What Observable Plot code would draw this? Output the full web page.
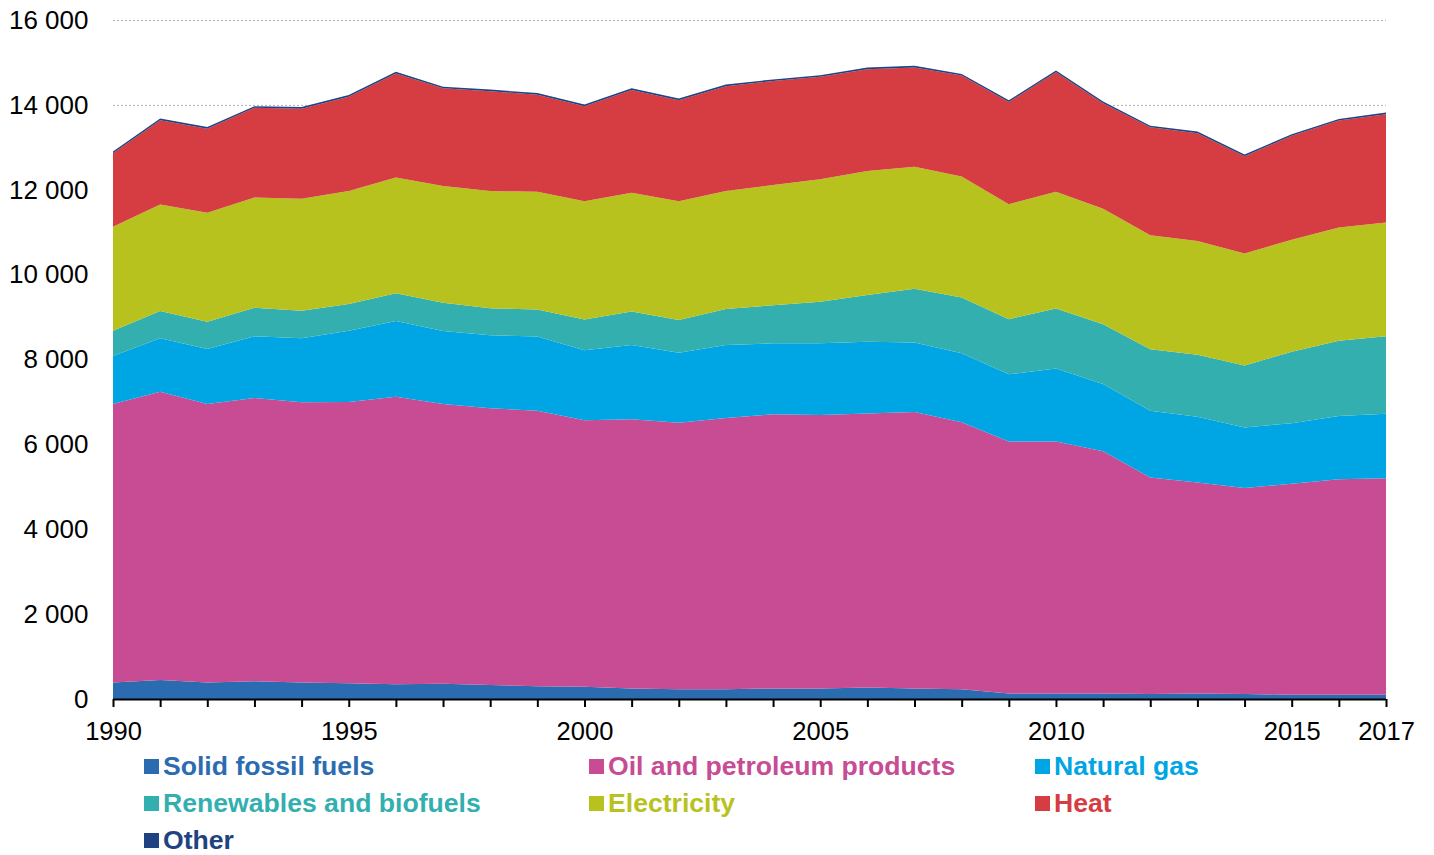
<!DOCTYPE html>
<html>
<head>
<meta charset="utf-8">
<script src="https://cdn.jsdelivr.net/npm/d3@7"></script>
<script src="https://cdn.jsdelivr.net/npm/@observablehq/plot@0.6"></script>
<style>
  html, body { margin: 0; padding: 0; background: #fff; }
  body { width: 1434px; height: 855px; overflow: hidden; font-family: "Liberation Sans", Arial, sans-serif; }
  #chart svg { display: block; }
  .legend { display: grid; grid-template-columns: 445px 446px 300px; padding-left: 144px; margin-top: 0; }
  .legend .item { display: flex; align-items: center; height: 37px; font-weight: bold; font-size: 26.6px; white-space: nowrap; }
  .legend .sw { width: 15px; height: 15px; margin-right: 4px; flex: none; }
</style>
</head>
<body>
<div id="chart"></div>
<div class="legend" id="legend"></div>
<script>
const years = [1990,1991,1992,1993,1994,1995,1996,1997,1998,1999,2000,2001,2002,2003,2004,2005,2006,2007,2008,2009,2010,2011,2012,2013,2014,2015,2016,2017];
const seriesNames = ["Solid fossil fuels","Oil and petroleum products","Natural gas","Renewables and biofuels","Electricity","Heat","Other"];
const seriesColors = ["#2b6cb1","#c74c94","#00a5e3","#33afaf","#b8c21f","#d63d43","#1f4280"];

const solidFossil = [390,450,390,420,390,370,350,360,330,300,290,250,230,230,250,250,270,250,230,130,130,130,120,130,120,100,100,100];
const oilPetroleum = [6560,6790,6560,6670,6600,6630,6770,6590,6520,6490,6280,6340,6280,6390,6460,6440,6460,6510,6290,5940,5940,5710,5100,4970,4850,4970,5080,5100];
const naturalGas = [1130,1260,1300,1460,1510,1680,1790,1720,1720,1750,1650,1750,1650,1720,1670,1690,1690,1640,1630,1580,1720,1580,1570,1550,1430,1430,1490,1520];
const renewables = [600,640,640,670,650,630,650,670,640,640,720,790,770,850,900,980,1100,1270,1310,1300,1410,1410,1450,1460,1460,1680,1770,1830];
const electricity = [2450,2510,2570,2600,2640,2660,2730,2750,2760,2770,2790,2800,2800,2780,2830,2890,2920,2870,2850,2710,2750,2720,2690,2680,2640,2640,2670,2680];
const heat = [1730,1990,1980,2110,2120,2220,2450,2300,2350,2290,2240,2420,2380,2470,2450,2410,2400,2340,2380,2410,2820,2490,2540,2540,2290,2450,2520,2550];
const other = [40,40,40,40,40,40,40,40,40,40,40,40,40,40,40,40,40,40,40,40,40,40,40,40,40,40,40,40];

const yTicks = [0,2000,4000,6000,8000,10000,12000,14000,16000];
const xLabelYears = [1990,1995,2000,2005,2010,2015,2017];

const seriesValues = [solidFossil, oilPetroleum, naturalGas, renewables, electricity, heat, other];
const data = [];
seriesNames.forEach((name, i) => {
  years.forEach((yr, j) => data.push({series: name, year: yr, value: seriesValues[i][j]}));
});

const fmt = d => d3.format(",")(d).replace(/,/g, " ");

const chart = Plot.plot({
  width: 1434,
  height: 748,
  marginLeft: 113,
  marginRight: 48,
  marginTop: 20,
  marginBottom: 49,
  style: {fontFamily: "'Liberation Sans', Arial, sans-serif", fontSize: "26px", color: "#000", background: "#fff"},
  x: {domain: [1990, 2017]},
  y: {domain: [0, 16000]},
  color: {domain: seriesNames, range: seriesColors},
  marks: [
    Plot.gridY(yTicks, {stroke: "#b0b0b0", strokeOpacity: 1, strokeDasharray: "2,2", strokeWidth: 1}),
    Plot.areaY(data, {x: "year", y: "value", z: "series", fill: "series", order: seriesNames}),
    Plot.ruleY([0], {stroke: "#000", strokeWidth: 2}),
    Plot.axisY(yTicks, {tickSize: 0, tickPadding: 25, tickFormat: fmt, label: null, fontSize: 26}),
    Plot.axisX(years, {tickSize: 8, tickPadding: 14, strokeWidth: 2, tickFormat: d => xLabelYears.includes(d) ? String(d) : "", label: null, fontSize: 25.5})
  ]
});
document.getElementById("chart").appendChild(chart);

const legend = document.getElementById("legend");
seriesNames.forEach((name, i) => {
  const item = document.createElement("div");
  item.className = "item";
  item.style.color = seriesColors[i];
  const sw = document.createElement("span");
  sw.className = "sw";
  sw.style.background = seriesColors[i];
  item.appendChild(sw);
  item.appendChild(document.createTextNode(name));
  legend.appendChild(item);
});
</script>
</body>
</html>
